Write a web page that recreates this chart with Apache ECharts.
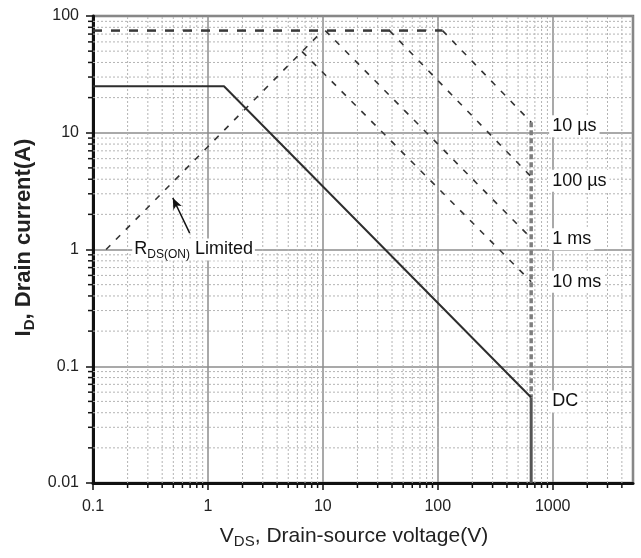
<!DOCTYPE html>
<html>
<head>
<meta charset="utf-8">
<script src="https://cdn.jsdelivr.net/npm/echarts@6/dist/echarts.min.js"></script>
<style>
  html, body { margin: 0; padding: 0; background: #fff; }
  #soa { width: 641px; height: 558px; }
</style>
</head>
<body>
<div id="soa"></div>
<script>
// safe operating area, both axes log10. V in volts, I in amps
var xTicks = [0.1, 1, 10, 100, 1000];
var yTicks = [0.01, 0.1, 1, 10, 100];

var dcV = [0.1, 1.38, 650];
var dcI = [25, 25, 0.054];
var dcDropV = [650, 650];
var dcDropI = [0.054, 0.01];
var peakV = [0.1, 110];
var peakI = [75, 75];
var rdsV = [0.13, 10];
var rdsI = [1, 75];
var us10V = [110, 650];
var us10I = [75, 12.3];
var us100V = [38, 650];
var us100I = [75, 4.2];
var ms1V = [10.5, 650];
var ms1I = [75, 1.25];
var ms10V = [6.6, 650];
var ms10I = [49.5, 0.53];
var bvV = [650, 650];
var bvI = [12.3, 0.054];

var pulseNames = ['10 µs', '100 µs', '1 ms', '10 ms'];

var FONT = 'Liberation Sans, Arial, sans-serif';
var xMin = xTicks[0], xMax = 5000;
var yMin = yTicks[0], yMax = yTicks[yTicks.length - 1];

function pts(xs, ys) {
  return xs.map(function (x, i) { return [x, ys[i]]; });
}

function plain(v) {
  return String(+v.toPrecision(6));
}

// 2..9 inside every decade, for the dotted minor grid
var minorX = [], minorY = [];
xTicks.forEach(function (d) {
  for (var k = 2; k <= 9; k++) if (d * k < xMax) minorX.push(d * k);
});
yTicks.slice(0, -1).forEach(function (d) {
  for (var k = 2; k <= 9; k++) minorY.push(d * k);
});

function minorRender(horizontal) {
  return function (params, api) {
    var a, b, t;
    if (horizontal) {
      var v = api.value(1);
      a = api.coord([xMin, v]); b = api.coord([xMax, v]);
      t = [a[0] - 5, a[1]];
    } else {
      var u = api.value(0);
      a = api.coord([u, yMin]); b = api.coord([u, yMax]);
      t = [a[0], a[1] + 5];
    }
    return {
      type: 'group',
      children: [
        { type: 'line', shape: { x1: a[0], y1: a[1], x2: b[0], y2: b[1] },
          style: { stroke: '#b4b4b4', lineWidth: 1, lineDash: [2, 2] } },
        { type: 'line', shape: { x1: a[0], y1: a[1], x2: t[0], y2: t[1] },
          style: { stroke: '#111', lineWidth: 1.5 } }
      ]
    };
  };
}

function dashed(name, xs, ys, label, off) {
  var s = {
    name: name, type: 'line', data: pts(xs, ys), symbol: 'none', z: 4,
    lineStyle: { color: '#333', width: 1.6, type: [6, 8] }
  };
  if (label) {
    s.endLabel = {
      show: true, formatter: name, distance: 18, offset: [0, off || 0],
      fontFamily: FONT, fontSize: 18, color: '#111',
      backgroundColor: '#fff', padding: [2, 3]
    };
  }
  return s;
}

var chart = echarts.init(document.getElementById('soa'));
chart.setOption({
  animation: false,
  backgroundColor: '#fff',
  grid: { left: 93, right: 8, top: 16, bottom: 75, show: true, borderColor: '#7a7a7a', borderWidth: 2.5 },
  xAxis: {
    type: 'log', logBase: 10, min: xMin, max: xMax,
    axisLine: { lineStyle: { color: '#111', width: 3 } },
    axisTick: { length: 7, lineStyle: { color: '#111', width: 1.5 } },
    axisLabel: { fontFamily: FONT, fontSize: 16, color: '#222', margin: 16, showMaxLabel: false, formatter: plain },
    splitLine: { show: true, lineStyle: { color: '#8c8c8c', width: 1.5 } },
    name: '{n|V}{s|DS}{n|, Drain-source voltage(V)}',
    nameLocation: 'middle', nameGap: 40,
    nameTextStyle: {
      padding: [0, 18, 0, 0],
      rich: {
        n: { fontFamily: FONT, fontSize: 21, color: '#222', lineHeight: 26 },
        s: { fontFamily: FONT, fontSize: 15, color: '#222', lineHeight: 13, verticalAlign: 'bottom' }
      }
    }
  },
  yAxis: {
    type: 'log', logBase: 10, min: yMin, max: yMax,
    axisLine: { lineStyle: { color: '#111', width: 3 } },
    axisTick: { length: 7, lineStyle: { color: '#111', width: 1.5 } },
    axisLabel: { fontFamily: FONT, fontSize: 16, color: '#222', margin: 14, formatter: plain },
    splitLine: { show: true, lineStyle: { color: '#8c8c8c', width: 1.5 } },
    name: '{n|I}{s|D}{n|, Drain current(A)}',
    nameLocation: 'middle', nameGap: 55, nameRotate: 90,
    nameTextStyle: {
      padding: [0, 0, 0, 24],
      rich: {
        n: { fontFamily: FONT, fontSize: 22, fontWeight: 'bold', color: '#222', lineHeight: 26 },
        s: { fontFamily: FONT, fontSize: 15, fontWeight: 'bold', color: '#222', lineHeight: 13, verticalAlign: 'bottom' }
      }
    }
  },
  series: [
    { type: 'custom', z: 1, silent: true, data: minorX.map(function (v) { return [v, 1]; }),
      encode: { x: 0, y: 1 }, renderItem: minorRender(false) },
    { type: 'custom', z: 1, silent: true, data: minorY.map(function (v) { return [1, v]; }),
      encode: { x: 0, y: 1 }, renderItem: minorRender(true) },
    {
      name: 'DC', type: 'line', data: pts(dcV, dcI), symbol: 'none', z: 5,
      lineStyle: { color: '#2e2e2e', width: 2 },
      endLabel: {
        show: true, formatter: 'DC', distance: 18, offset: [0, 4],
        fontFamily: FONT, fontSize: 18, color: '#111', backgroundColor: '#fff', padding: [2, 3]
      }
    },
    { name: 'dcDrop', type: 'line', data: pts(dcDropV, dcDropI), symbol: 'none', z: 5,
      lineStyle: { color: '#555', width: 3 } },
    { name: 'bv', type: 'line', data: pts(bvV, bvI), symbol: 'none', z: 3,
      lineStyle: { color: '#7e7e7e', width: 3.5, type: [5, 3] } },
    { name: 'peak', type: 'line', data: pts(peakV, peakI), symbol: 'none', z: 4,
      lineStyle: { color: '#3a3a3a', width: 2.5, type: [9, 9] } },
    dashed(pulseNames[0], us10V, us10I, true, 4),
    dashed(pulseNames[1], us100V, us100I, true, 4),
    dashed(pulseNames[2], ms1V, ms1I, true, 1),
    dashed(pulseNames[3], ms10V, ms10I, true, 0),
    (function () {
      var s = dashed('rds', rdsV, rdsI, false);
      s.markLine = {
        silent: true, symbol: ['none', 'arrow'], symbolSize: [7, 11],
        lineStyle: { type: 'solid', color: '#111', width: 1.5 },
        label: { show: false },
        data: [[{ coord: [0.694, 1.38] }, { coord: [0.495, 2.76] }]]
      };
      s.markPoint = {
        silent: true, symbol: 'rect', symbolSize: 1, itemStyle: { color: 'rgba(0,0,0,0)' },
        label: {
          show: true, position: 'inside', formatter: '{r|R}{s|DS(ON)}{r| Limited}',
          backgroundColor: '#fff', padding: [0, 2],
          rich: {
            r: { fontFamily: FONT, fontSize: 18, color: '#111', lineHeight: 22 },
            s: { fontFamily: FONT, fontSize: 12, color: '#111', lineHeight: 12, verticalAlign: 'bottom' }
          }
        },
        data: [{ coord: [0.75, 1] }]
      };
      return s;
    })()
  ]
});
</script>
</body>
</html>
